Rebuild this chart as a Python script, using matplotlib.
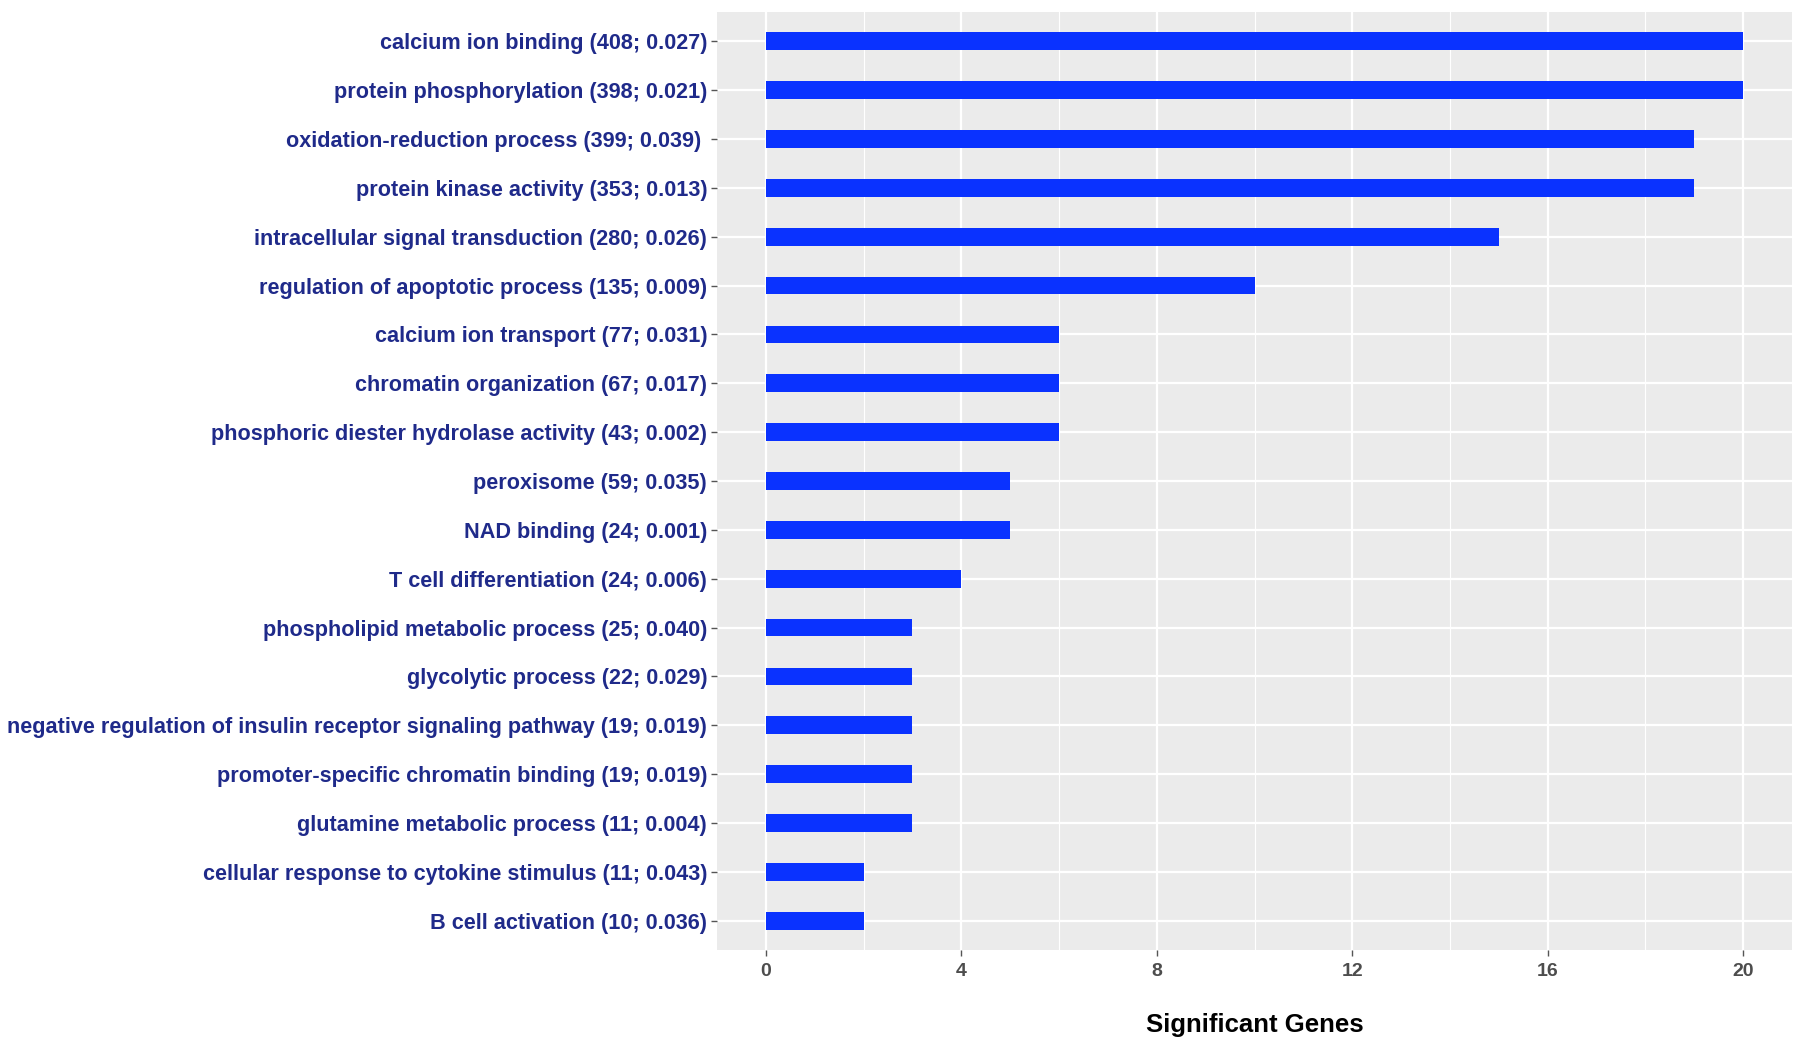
import matplotlib
matplotlib.use("Agg")
import matplotlib.pyplot as plt
import numpy as np
from matplotlib.ticker import MultipleLocator

# GO terms, top to bottom as in the figure
terminos = [
    "calcium ion binding (408; 0.027)",
    "protein phosphorylation (398; 0.021)",
    "oxidation-reduction process (399; 0.039) ",
    "protein kinase activity (353; 0.013)",
    "intracellular signal transduction (280; 0.026)",
    "regulation of apoptotic process (135; 0.009)",
    "calcium ion transport (77; 0.031)",
    "chromatin organization (67; 0.017)",
    "phosphoric diester hydrolase activity (43; 0.002)",
    "peroxisome (59; 0.035)",
    "NAD binding (24; 0.001)",
    "T cell differentiation (24; 0.006)",
    "phospholipid metabolic process (25; 0.040)",
    "glycolytic process (22; 0.029)",
    "negative regulation of insulin receptor signaling pathway (19; 0.019)",
    "promoter-specific chromatin binding (19; 0.019)",
    "glutamine metabolic process (11; 0.004)",
    "cellular response to cytokine stimulus (11; 0.043)",
    "B cell activation (10; 0.036)",
]
genes_significativos = [20, 20, 19, 19, 15, 10, 6, 6, 6, 5, 5, 4, 3, 3, 3, 3, 3, 2, 2]
ticks_x = [0, 4, 8, 12, 16, 20]

plt.rcParams['font.family'] = ['Liberation Sans', 'DejaVu Sans']

fig = plt.figure(figsize=(18, 10.4), dpi=100)
ax = fig.add_axes([0.3983, 0.0865, 0.5973, 0.902])

n = len(terminos)
y = np.arange(n)[::-1] + 1  # first term at top

ax.set_facecolor('#EBEBEB')
ax.barh(y, genes_significativos, height=0.36, color='#0a32ff', zorder=3)

ax.set_xlim(-1, 21)
ax.set_ylim(0.4, n + 0.6)

ax.set_xticks(ticks_x)
ax.xaxis.set_minor_locator(MultipleLocator(2))
ax.set_yticks(y)
ax.set_yticklabels(terminos)

ax.grid(which='major', color='white', linewidth=1.6, zorder=1)
ax.grid(which='minor', axis='x', color='white', linewidth=0.8, zorder=1)
ax.tick_params(axis='x', which='minor', length=0)
ax.tick_params(axis='both', which='major', length=4, width=1, color='#555555', pad=4)
ax.tick_params(axis='x', labelsize=14, labelcolor='#4d4d4d', pad=5)
ax.tick_params(axis='y', labelsize=15.6, labelcolor='#1f2a8a', pad=3)
for t in ax.get_xticklabels() + ax.get_yticklabels():
    t.set_fontweight('bold')

for s in ax.spines.values():
    s.set_visible(False)

ax.set_xlabel('Significant Genes', fontsize=18.5, fontweight='bold', color='black', labelpad=24)

fig.savefig('out.png', dpi=100)
